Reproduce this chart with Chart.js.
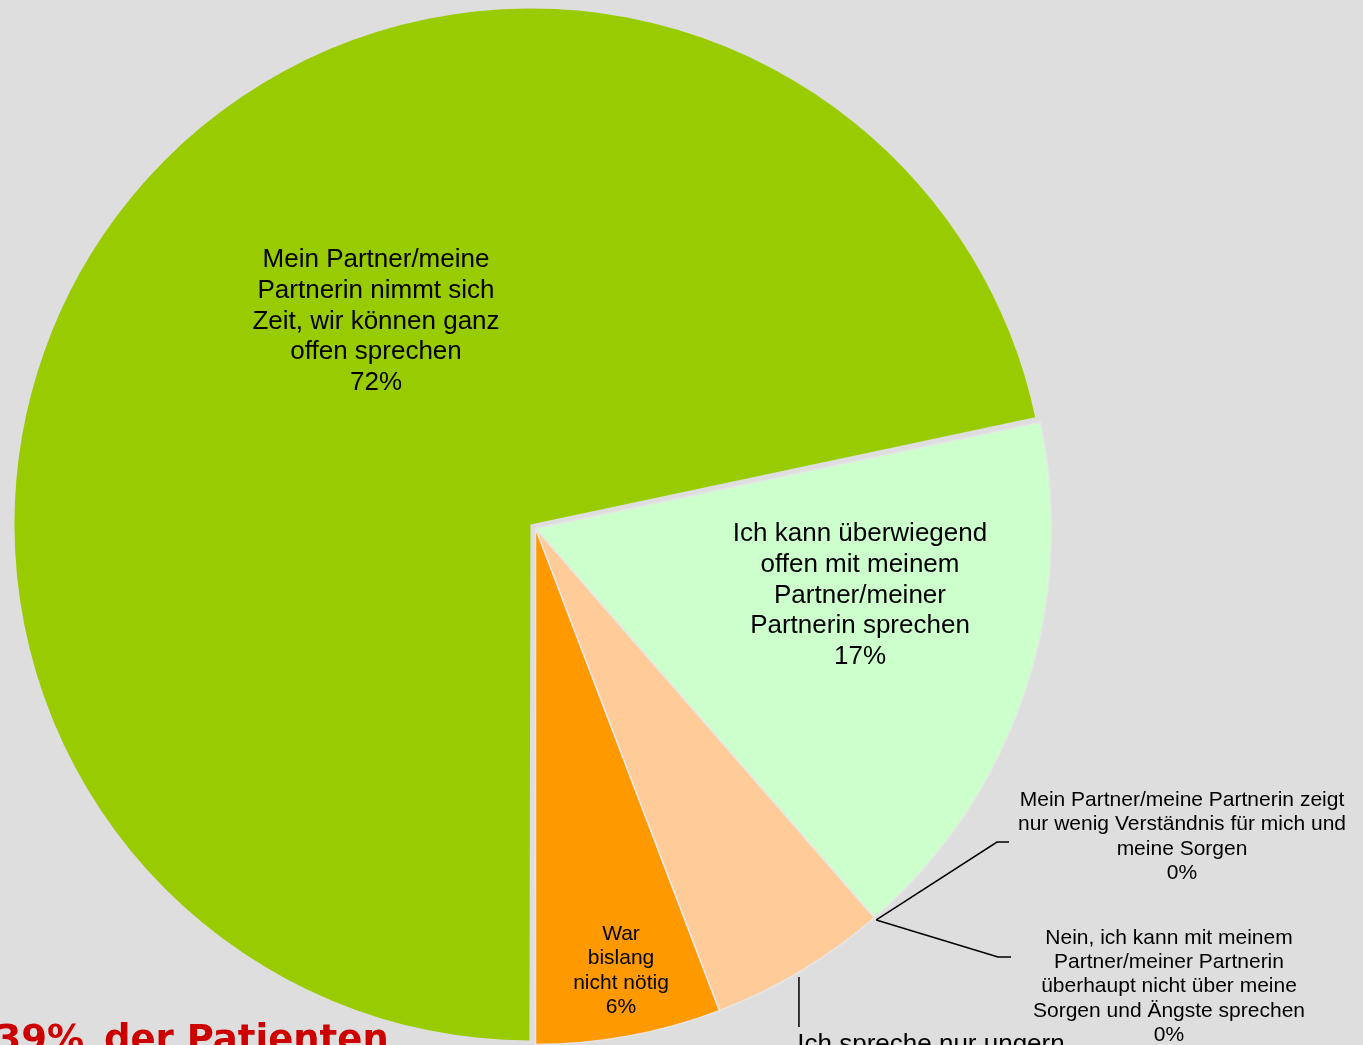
<!DOCTYPE html>
<html lang="de">
<head>
<meta charset="utf-8">
<title>Gespräche mit dem Partner</title>
<script src="https://cdn.jsdelivr.net/npm/chart.js@4"></script>
<style>
  html, body { margin: 0; padding: 0; background: #dedede; overflow: hidden; }
  #wrap { position: absolute; left: 0; top: 0; width: 1363px; height: 1100px; }
</style>
</head>
<body>
<div id="wrap"><canvas id="pie" width="1363" height="1100"></canvas></div>
<script>
/* ===== Daten ===== */
const CATEGORIES = [
  ['Mein Partner/meine', 'Partnerin nimmt sich', 'Zeit, wir können ganz', 'offen sprechen'],
  ['Ich kann überwiegend', 'offen mit meinem', 'Partner/meiner', 'Partnerin sprechen'],
  ['Mein Partner/meine Partnerin zeigt', 'nur wenig Verständnis für mich und', 'meine Sorgen'],
  ['Nein, ich kann mit meinem', 'Partner/meiner Partnerin', 'überhaupt nicht über meine', 'Sorgen und Ängste sprechen'],
  ['Ich spreche nur ungern'],
  ['War', 'bislang', 'nicht nötig'],
];
const VALUES = [71.7, 16.9, 0, 0, 5.6, 5.8];
const PCT_LABELS = ['72%', '17%', '0%', '0%', '6%', '6%'];
const COLORS = ['#99cc00', '#ccffcc', '#ffcc99', '#ffcc99', '#ffcc99', '#ff9900'];
const HEADLINE = ['39%', 'der Patienten'];

/* Textlage der Beschriftungen (Mitte der ersten Zeile, Schriftgröße, Zeilenabstand) */
const LABEL_LAYOUT = [
  { x: 376, y: 260, size: 26, lh: 30.7 },
  { x: 860, y: 534, size: 26, lh: 30.7 },
  { x: 1182, y: 800, size: 21, lh: 24.4 },
  { x: 1169, y: 938, size: 21, lh: 24.3 },
  { x: 931, y: 1045, size: 26, lh: 30.7 },
  { x: 621, y: 934, size: 21, lh: 24.4 },
];
const FONT = '"Liberation Sans", Arial, sans-serif';
const EXPLODE = 26;   // Chart.js verschiebt um offset/4 und vergrößert dabei den Radius

// herausgezogenes Segment: Radius nicht vergrößern (wie in Excel)
const keepRadius = {
  id: 'keepRadius',
  beforeDatasetsDraw(chart) {
    const meta = chart.getDatasetMeta(0);
    meta.data[0].outerRadius = meta.controller.outerRadius - EXPLODE / 4;
  },
};

// Beschriftungen + Führungslinien
const sliceLabels = {
  id: 'sliceLabels',
  afterDatasetsDraw(chart) {
    const ctx = chart.ctx;
    const arcs = chart.getDatasetMeta(0).data;
    const at = (a, ang, r) => [a.x + Math.cos(ang) * r, a.y + Math.sin(ang) * r];
    ctx.save();

    // Führungslinien für 0%-Segmente und das kleine Segment
    ctx.strokeStyle = '#000'; ctx.lineWidth = 1.5; ctx.lineJoin = 'miter';
    const apex = at(arcs[2], arcs[2].startAngle, arcs[2].outerRadius + 3);
    ctx.beginPath();
    ctx.moveTo(apex[0], apex[1]); ctx.lineTo(997, 842); ctx.lineTo(1009, 842);
    ctx.moveTo(apex[0], apex[1]); ctx.lineTo(998, 957); ctx.lineTo(1011, 957);
    const p4 = arcs[4];
    const m = at(p4, (p4.startAngle + p4.endAngle) / 2, p4.outerRadius);
    ctx.moveTo(m[0] - 2, m[1] + 6); ctx.lineTo(m[0] - 2, 1027);
    ctx.stroke();

    // Texte
    ctx.fillStyle = '#000'; ctx.textAlign = 'center'; ctx.textBaseline = 'middle';
    LABEL_LAYOUT.forEach((l, i) => {
      ctx.font = l.size + 'px ' + FONT;
      CATEGORIES[i].concat(PCT_LABELS[i]).forEach((t, k) => ctx.fillText(t, l.x, l.y + k * l.lh));
    });

    // rote Überschrift (unten abgeschnitten)
    ctx.fillStyle = '#cc0000'; ctx.textBaseline = 'alphabetic';
    ctx.font = 'bold 37px "DejaVu Sans", Verdana, sans-serif';
    ctx.textAlign = 'right'; ctx.fillText(HEADLINE[0], 84, 1051);
    ctx.textAlign = 'left'; ctx.fillText(HEADLINE[1], 104, 1051);
    ctx.restore();
  },
};

new Chart(document.getElementById('pie'), {
  type: 'pie',
  data: {
    labels: CATEGORIES.map(c => c.join(' ')),
    datasets: [{
      data: VALUES,
      backgroundColor: COLORS,
      borderColor: '#e6e6e6',
      borderWidth: [0, 1.5, 1.5, 1.5, 1.5, 1.5],
      offset: [EXPLODE, 0, 0, 0, 0, 0],
    }],
  },
  options: {
    responsive: false,
    animation: false,
    rotation: 180,
    radius: 516,
    layout: { padding: { left: 0, top: 0, right: 292, bottom: 43 } },
    plugins: { legend: { display: false }, tooltip: { enabled: false } },
  },
  plugins: [keepRadius, sliceLabels],
});
</script>
</body>
</html>
